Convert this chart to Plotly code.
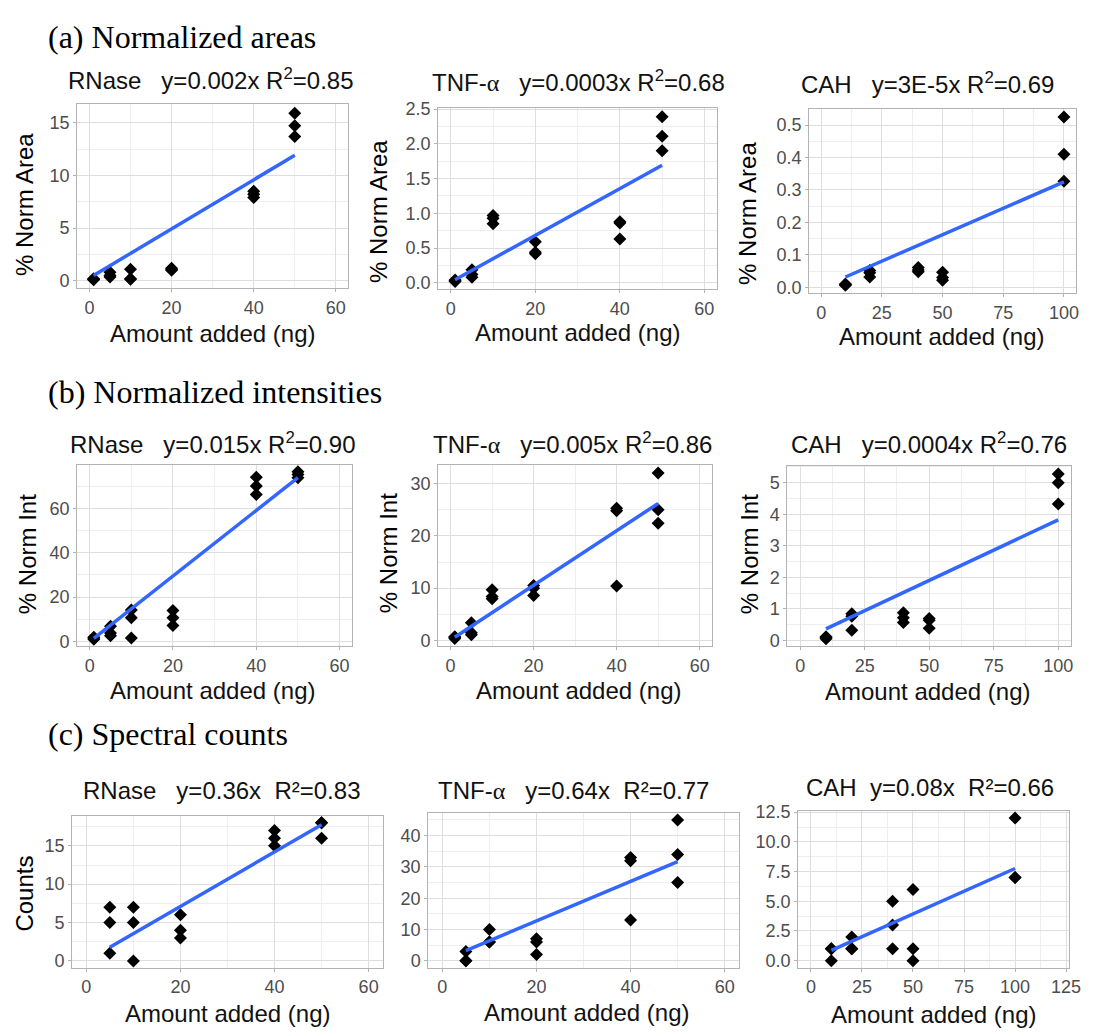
import plotly.graph_objects as go

# ---------------- data ----------------
amount_ab = [1, 1, 1, 5, 5, 5, 10, 10, 10, 20, 20, 20, 40, 40, 40, 50, 50, 50]
amount_cah = [10, 10, 10, 20, 20, 20, 40, 40, 40, 50, 50, 50, 100, 100, 100]
amount_c = [5, 5, 5, 10, 10, 10, 20, 20, 20, 40, 40, 40, 50, 50, 50]

rnase_area = [0.10, 0.15, 0.20, 0.80, 0.50, 0.35, 1.10, 0.20, 0.15,
              1.20, 1.10, 1.00, 8.5, 8.2, 7.9, 15.9, 14.7, 13.7]
tnf_area = [0.02, 0.03, 0.04, 0.19, 0.12, 0.08, 0.97, 0.93, 0.85,
            0.59, 0.44, 0.42, 0.88, 0.86, 0.63, 2.39, 2.11, 1.90]
cah_area = [0.006, 0.008, 0.010, 0.052, 0.045, 0.032, 0.061, 0.053, 0.048,
            0.046, 0.030, 0.022, 0.525, 0.410, 0.327]

rnase_int = [1.0, 1.5, 1.8, 6.8, 3.8, 2.5, 14.2, 10.6, 1.5,
             13.9, 10.6, 7.2, 74.1, 70.1, 66.3, 76.5, 75.3, 73.8]
tnf_int = [0.4, 0.6, 0.7, 3.4, 1.5, 1.1, 9.7, 8.4, 8.0,
           10.5, 10.0, 8.6, 25.3, 24.8, 10.4, 32.0, 25.0, 22.4]
cah_int = [0.12, 0.06, 0.09, 0.85, 0.77, 0.33, 0.88, 0.72, 0.57,
           0.70, 0.64, 0.39, 5.28, 5.00, 4.33]

rnase_counts = [7, 5, 1, 7, 5, 0, 6, 4, 3, 17, 16, 15, 18, 18, 16]
tnf_counts = [3, 0, 0, 10, 6, 6, 7, 6, 2, 33, 32, 13, 45, 34, 25]
cah_counts = [1, 0, 1, 2, 1, 1, 5, 3, 1, 6, 1, 0, 12, 7, 7]

# fitted line parameters (as drawn in the reference)
fit_slope = [0.2327, 0.0336, 0.00326, 1.48, 0.522, 0.0384, 0.355, 0.632, 0.0766]
fit_intercept = [0.27, 0.012, -0.001, -0.1, 0.1, -0.014, 0.0, 0.07, 0.1]

ALPHA = '<span style="font-family:Liberation Serif">α</span>'
NB = "\u00a0"
panel_titles = [
    f"RNase{NB*3}y=0.002x R<sup>2</sup>=0.85",
    f"TNF-{ALPHA}{NB*3}y=0.0003x R<sup>2</sup>=0.68",
    f"CAH{NB*3}y=3E-5x R<sup>2</sup>=0.69",
    f"RNase{NB*3}y=0.015x R<sup>2</sup>=0.90",
    f"TNF-{ALPHA}{NB*3}y=0.005x R<sup>2</sup>=0.86",
    f"CAH{NB*3}y=0.0004x R<sup>2</sup>=0.76",
    f"RNase{NB*3}y=0.36x{NB*2}R²=0.83",
    f"TNF-{ALPHA}{NB*3}y=0.64x{NB*2}R²=0.77",
    f"CAH{NB*2}y=0.08x{NB*2}R²=0.66",
]
y_titles = ["% Norm Area", "% Norm Area", "% Norm Area",
            "% Norm Int", "% Norm Int", "% Norm Int",
            "Counts", "", ""]
x_title = "Amount added (ng)"
section_labels = ["(a) Normalized areas", "(b) Normalized intensities", "(c) Spectral counts"]

x_ticks_60 = [0, 20, 40, 60]
x_ticks_100 = [0, 25, 50, 75, 100]
x_ticks_125 = [0, 25, 50, 75, 100, 125]

panel_x = [amount_ab, amount_ab, amount_cah, amount_ab, amount_ab, amount_cah,
           amount_c, amount_c, amount_cah]
panel_y = [rnase_area, tnf_area, cah_area, rnase_int, tnf_int, cah_int,
           rnase_counts, tnf_counts, cah_counts]

# ---------------- layout (pixel geometry) ----------------
W, H = 1095, 1032
# left, right, top, bottom in px
boxes = [(78, 352, 96, 283), (443, 725, 100, 284), (818, 1088, 101, 288),
         (78, 356, 462, 646), (443, 720, 462, 646), (796, 1083, 463, 646),
         (73, 387, 818, 972), (433, 747, 815, 972), (807, 1081, 813, 972)]
x_ranges = [[-3, 63], [-3, 63], [-5, 105], [-3, 63], [-3, 63], [-5, 105],
            [-3, 63], [-3, 63], [-6.25, 126.5]]
y_ranges = [[-0.7, 16.8], [-0.09, 2.52], [-0.018, 0.551],
            [-2.2, 79.7], [-1.1, 33.6], [-0.18, 5.54],
            [-0.9, 18.9], [-2.25, 47.25], [-0.6, 12.6]]
x_tickvals = [x_ticks_60, x_ticks_60, x_ticks_100, x_ticks_60, x_ticks_60, x_ticks_100,
              x_ticks_60, x_ticks_60, x_ticks_125]
y_dtick = [5, 0.5, 0.1, 20, 10, 1, 5, 10, 2.5]
y_fmt = ["", ".1f", ".1f", "", "", "", "", "", ".1f"]
title_pos = [(213, 71), (585, 73), (938, 75), (215, 440), (579, 440), (939, 440),
             (224, 792), (580, 792), (940, 789)]
ytitle_pos = [(25, 198), (382, 205), (755, 207), (28, 553), (393, 552), (758, 553),
              (25, 897), None, None]
xtitle_pos = [(215, 329), (584, 328), (952, 332), (215, 691), (585, 691), (938, 692),
              (230, 1018), (593, 1017), (944, 1019)]
section_pos = [(47, 28), (47, 388), (47, 735)]

FONT = "Liberation Sans, Arial, sans-serif"
GRID = "#DEDEDE"
MINOR = "#EEEEEE"
BORDER = "#B3B3B3"
TICKTXT = "#4D4D4D"


def px(x):
    return x / W


def py(y):
    return 1 - y / H


fig = go.Figure()
layout = dict(
    width=W, height=H, autosize=False,
    margin=dict(l=0, r=0, t=0, b=0),
    paper_bgcolor="white", plot_bgcolor="white",
    showlegend=False,
    font=dict(family=FONT, size=20, color="black"),
)
annotations = []

for i in range(9):
    n = "" if i == 0 else str(i + 1)
    xs, ys = panel_x[i], panel_y[i]
    fig.add_trace(go.Scatter(
        x=xs, y=ys, mode="markers", xaxis=f"x{n}", yaxis=f"y{n}",
        marker=dict(symbol="diamond", size=10, color="black"),
        hoverinfo="x+y"))
    x0, x1 = min(xs), max(xs)
    fig.add_trace(go.Scatter(
        x=[x0, x1], y=[fit_slope[i] * x0 + fit_intercept[i], fit_slope[i] * x1 + fit_intercept[i]],
        mode="lines", xaxis=f"x{n}", yaxis=f"y{n}",
        line=dict(color="#3366FF", width=3.5)))

    l, r, t, b = boxes[i]
    common = dict(showline=True, mirror=True, linecolor=BORDER, linewidth=1,
                  ticks="outside", ticklen=3, tickcolor=BORDER, tickwidth=1,
                  showgrid=True, gridcolor=GRID, gridwidth=1, zeroline=False,
                  tickfont=dict(family=FONT, size=18, color=TICKTXT),
                  fixedrange=True)
    xt = x_tickvals[i]
    layout[f"xaxis{n}"] = dict(
        common, domain=[px(l), px(r)], range=x_ranges[i], anchor=f"y{n}",
        tickmode="array", tickvals=xt, ticktext=[str(v) for v in xt],
        minor=dict(showgrid=True, gridcolor=MINOR, gridwidth=1,
                   dtick=(xt[1] - xt[0]) / 2, tick0=0, ticks=""))
    layout[f"yaxis{n}"] = dict(
        common, domain=[py(b), py(t)], range=y_ranges[i], anchor=f"x{n}",
        dtick=y_dtick[i], tick0=0, tickformat=y_fmt[i],
        minor=dict(showgrid=True, gridcolor=MINOR, gridwidth=1,
                   dtick=y_dtick[i] / 2, tick0=0, ticks=""))

    tx, ty = title_pos[i]
    annotations.append(dict(text=panel_titles[i], x=px(tx), y=py(ty), xref="paper", yref="paper",
                            xanchor="center", yanchor="middle", showarrow=False,
                            font=dict(family=FONT, size=24, color="#111111")))
    if ytitle_pos[i] is not None and y_titles[i]:
        yx, yy = ytitle_pos[i]
        annotations.append(dict(text=y_titles[i], x=px(yx), y=py(yy), xref="paper", yref="paper",
                                xanchor="center", yanchor="middle", showarrow=False, textangle=-90,
                                font=dict(family=FONT, size=24, color="black")))
    xx, xy = xtitle_pos[i]
    annotations.append(dict(text=x_title, x=px(xx), y=py(xy), xref="paper", yref="paper",
                            xanchor="center", yanchor="middle", showarrow=False,
                            font=dict(family=FONT, size=24, color="#111111")))

for lab, (sx, sy) in zip(section_labels, section_pos):
    annotations.append(dict(text=lab, x=px(sx), y=py(sy), xref="paper", yref="paper",
                            xanchor="left", yanchor="middle", showarrow=False,
                            font=dict(family="Liberation Serif, Times New Roman, serif",
                                      size=32, color="black")))

layout["annotations"] = annotations
fig.update_layout(**layout)
fig.write_html("out.html")
